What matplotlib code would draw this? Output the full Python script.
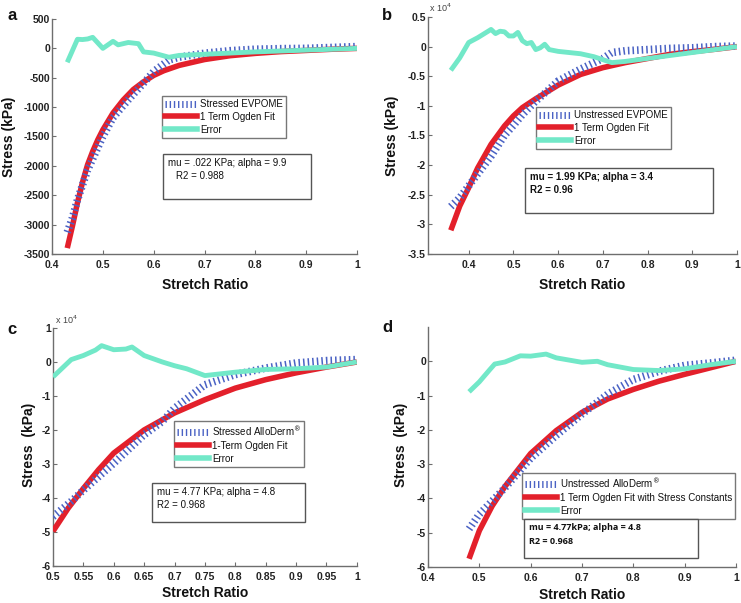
import matplotlib
matplotlib.use("Agg")
import matplotlib.pyplot as plt
from matplotlib.lines import Line2D

plt.rcParams['font.family'] = ['Liberation Sans', 'DejaVu Sans']

# ---------------- Panel a (kPa) ----------------
a_fit_x = [0.43, 0.44, 0.45, 0.46, 0.47, 0.48, 0.49, 0.50, 0.52, 0.54, 0.56, 0.58,
           0.60, 0.62, 0.65, 0.70, 0.75, 0.80, 0.85, 0.90, 0.95, 1.00]
a_fit_y = [-3400, -3030, -2630, -2280, -1980, -1755, -1557, -1387, -1100, -880, -700, -570,
           -460, -380, -290, -190, -125, -85, -55, -35, -15, 0]
a_exp_x = [0.43, 0.44, 0.45, 0.47, 0.50, 0.52, 0.55, 0.58, 0.60, 0.63, 0.65, 0.70,
           0.75, 0.80, 0.85, 0.90, 0.95, 1.00]
a_exp_y = [-3130, -2890, -2580, -2070, -1500, -1180, -877, -593, -395, -197, -150, -83,
           -40, -15, -5, 0, 15, 30]
a_err_x = [0.43, 0.45, 0.46, 0.47, 0.48, 0.50, 0.52, 0.53, 0.55, 0.57, 0.58, 0.60,
           0.63, 0.65, 0.70, 0.75, 0.80, 0.90, 1.00]
a_err_y = [-237, 155, 150, 160, 188, 0, 120, 60, 100, 80, -60, -80,
           -151, -120, -100, -80, -60, -30, 0]

# ---------------- Panel b (x 1e4 kPa) ----------------
b_fit_x = [0.36, 0.38, 0.40, 0.42, 0.45, 0.48, 0.50, 0.52, 0.55, 0.60, 0.65, 0.70,
           0.75, 0.80, 0.85, 0.90, 0.95, 1.00]
b_fit_y = [-3.10, -2.69, -2.38, -2.05, -1.65, -1.34, -1.17, -1.03, -0.88, -0.65, -0.47, -0.355,
           -0.27, -0.20, -0.13, -0.085, -0.045, 0.0]
b_exp_x = [0.36, 0.38, 0.40, 0.42, 0.45, 0.48, 0.50, 0.52, 0.55, 0.58, 0.60, 0.65,
           0.70, 0.72, 0.75, 0.80, 0.85, 0.90, 0.95, 1.00]
b_exp_y = [-2.70, -2.55, -2.35, -2.15, -1.85, -1.50, -1.33, -1.15, -0.92, -0.72, -0.58, -0.38,
           -0.20, -0.10, -0.07, -0.05, -0.03, -0.02, 0.0, 0.01]
b_err_x = [0.36, 0.38, 0.40, 0.42, 0.45, 0.46, 0.47, 0.48, 0.49, 0.50, 0.51, 0.52,
           0.53, 0.54, 0.55, 0.56, 0.57, 0.58, 0.60, 0.65, 0.68, 0.70, 0.72, 0.75,
           0.80, 0.85, 0.90, 0.95, 1.00]
b_err_y = [-0.40, -0.19, 0.07, 0.15, 0.29, 0.22, 0.26, 0.25, 0.18, 0.18, 0.24, 0.10,
           0.05, 0.07, -0.05, -0.02, 0.04, -0.05, -0.08, -0.12, -0.17, -0.22, -0.27, -0.25,
           -0.20, -0.15, -0.10, -0.05, 0.0]

# ---------------- Panel c (x 1e4 kPa) ----------------
c_fit_x = [0.50, 0.525, 0.55, 0.575, 0.60, 0.65, 0.70, 0.75, 0.80, 0.85, 0.90, 0.95, 1.00]
c_fit_y = [-4.98, -4.30, -3.72, -3.17, -2.68, -2.00, -1.50, -1.11, -0.77, -0.52, -0.32, -0.15, 0.0]
c_exp_x = [0.50, 0.53, 0.55, 0.60, 0.65, 0.68, 0.70, 0.75, 0.80, 0.85, 0.90, 0.95, 1.00]
c_exp_y = [-4.55, -4.10, -3.77, -2.98, -2.14, -1.75, -1.36, -0.67, -0.37, -0.18, -0.03, 0.04, 0.07]
c_err_x = [0.50, 0.52, 0.53, 0.55, 0.57, 0.58, 0.60, 0.62, 0.63, 0.65, 0.68, 0.70,
           0.72, 0.75, 0.80, 0.85, 0.90, 0.95, 1.00]
c_err_y = [-0.44, -0.10, 0.07, 0.19, 0.35, 0.48, 0.36, 0.38, 0.44, 0.19, 0.0, -0.11,
           -0.20, -0.40, -0.30, -0.22, -0.20, -0.15, 0.0]

# ---------------- Panel d (x 1e4 kPa) ----------------
d_fit_x = [0.48, 0.50, 0.525, 0.55, 0.60, 0.65, 0.70, 0.75, 0.80, 0.85, 0.90, 0.95, 1.00]
d_fit_y = [-5.76, -4.94, -4.22, -3.65, -2.69, -2.02, -1.49, -1.10, -0.82, -0.58, -0.38, -0.19, 0.0]
d_exp_x = [0.48, 0.50, 0.55, 0.60, 0.65, 0.70, 0.75, 0.80, 0.85, 0.90, 0.95, 1.00]
d_exp_y = [-4.89, -4.46, -3.69, -2.83, -2.16, -1.54, -0.96, -0.53, -0.29, -0.12, -0.05, 0.03]
d_err_x = [0.48, 0.50, 0.52, 0.53, 0.55, 0.58, 0.60, 0.63, 0.65, 0.70, 0.73, 0.75,
           0.80, 0.85, 0.90, 0.95, 1.00]
d_err_y = [-0.89, -0.60, -0.25, -0.08, -0.02, 0.16, 0.15, 0.21, 0.10, -0.03, 0.0, -0.10,
           -0.24, -0.27, -0.22, -0.10, 0.0]

RED = '#e3202b'
BLUE = '#4a62c4'
AQUA = '#72e8c8'
SPINE = '#6e6e6e'
DASH = (0, (0.2, 0.4))

fig = plt.figure(figsize=(7.41, 6.03), dpi=100)
W, H = 741.0, 603.0


def make_ax(rect, xlim, ylim, xticks, yticks, xtl, ytl):
    ax = fig.add_axes(rect)
    ax.set_xlim(*xlim)
    ax.set_ylim(*ylim)
    ax.set_xticks(xticks)
    ax.set_yticks(yticks)
    ax.set_xticklabels(xtl)
    ax.set_yticklabels(ytl)
    for s in ['top', 'right']:
        ax.spines[s].set_visible(False)
    for s in ['left', 'bottom']:
        ax.spines[s].set_color(SPINE)
        ax.spines[s].set_linewidth(1.0)
    ax.tick_params(direction='in', length=3, width=0.8, color=SPINE,
                   labelsize=7.5, pad=1.5)
    ax.tick_params(axis='x', pad=4.5)
    for lab in ax.get_xticklabels() + ax.get_yticklabels():
        lab.set_fontweight('bold')
        lab.set_color('#222222')
    return ax


def draw(ax, ex, ey, fx, fy, rx, ry):
    ax.plot(fx, fy, color=RED, lw=4, solid_capstyle='butt', zorder=3)
    ax.plot(ex, ey, color=BLUE, lw=5.5, linestyle=DASH,
            dash_capstyle='butt', zorder=4)
    ax.plot(rx, ry, color=AQUA, lw=3.5, solid_capstyle='butt', zorder=5)


def legend(ax, labels, bbox, fs=7):
    handles = [Line2D([], [], color=BLUE, lw=5, linestyle=DASH, dash_capstyle='butt'),
               Line2D([], [], color=RED, lw=4),
               Line2D([], [], color=AQUA, lw=4)]
    lg = ax.legend(handles, labels, loc='upper left', bbox_to_anchor=bbox,
                   bbox_transform=fig.transFigure, fontsize=fs, frameon=True,
                   fancybox=False, edgecolor='#555555', handlelength=3.3,
                   handletextpad=0.3, borderpad=0.3, labelspacing=0.3,
                   borderaxespad=0)
    lg.get_frame().set_linewidth(1.0)
    for t in lg.get_texts():
        t.set_color('#111111')
    return lg


def textbox(x0, y0, x1, y1, lines, fs=7, weight='normal', indent2=0.0, family=None):
    rect = plt.Rectangle((x0 / W, 1 - y1 / H), (x1 - x0) / W, (y1 - y0) / H,
                         transform=fig.transFigure, fill=True, facecolor='white',
                         edgecolor='#555555', lw=1.0, zorder=10)
    fig.patches.append(rect)
    kw = dict(fontsize=fs, fontweight=weight, color='#111111', va='center', ha='left', zorder=11)
    if family:
        kw['family'] = family
    fig.text((x0 + 5) / W, 1 - (y0 + 9) / H, lines[0], **kw)
    fig.text((x0 + 5 + indent2) / W, 1 - (y0 + 22) / H, lines[1], **kw)


# Panel a
axa = make_ax([0.0702, 0.5788, 0.4116, 0.3897], (0.4, 1.0), (-3500, 500),
              [0.4, 0.5, 0.6, 0.7, 0.8, 0.9, 1.0],
              list(range(-3500, 501, 500)),
              ['0.4', '0.5', '0.6', '0.7', '0.8', '0.9', '1'],
              [str(v) for v in range(-3500, 501, 500)])
draw(axa, a_exp_x, a_exp_y, a_fit_x, a_fit_y, a_err_x, a_err_y)
legend(axa, ['Stressed EVPOME', '1 Term Ogden Fit', 'Error'], (162 / W, 1 - 96 / H))
textbox(163, 154, 311, 199, ['mu = .022 KPa; alpha = 9.9', 'R2 = 0.988'], indent2=8)

# Panel b
axb = make_ax([0.5776, 0.5788, 0.417, 0.3930], (0.309, 1.0), (-3.5, 0.5),
              [0.4, 0.5, 0.6, 0.7, 0.8, 0.9, 1.0],
              [-3.5, -3, -2.5, -2, -1.5, -1, -0.5, 0, 0.5],
              ['0.4', '0.5', '0.6', '0.7', '0.8', '0.9', '1'],
              ['-3.5', '-3', '-2.5', '-2', '-1.5', '-1', '-0.5', '0', '0.5'])
draw(axb, b_exp_x, b_exp_y, b_fit_x, b_fit_y, b_err_x, b_err_y)
legend(axb, ['Unstressed EVPOME', '1 Term Ogden Fit', 'Error'], (536 / W, 1 - 107 / H))
textbox(525, 168, 713, 213, ['mu = 1.99 KPa; alpha = 3.4', 'R2 = 0.96'], weight='bold')
fig.text(429 / W, 1 - 8 / H, r'x 10$^4$', fontsize=6.5, color='#444444', va='center')

# Panel c
axc = make_ax([0.0715, 0.0614, 0.410, 0.3947], (0.5, 1.0), (-6, 1),
              [0.5, 0.55, 0.6, 0.65, 0.7, 0.75, 0.8, 0.85, 0.9, 0.95, 1.0],
              [-6, -5, -4, -3, -2, -1, 0, 1],
              ['0.5', '0.55', '0.6', '0.65', '0.7', '0.75', '0.8', '0.85', '0.9', '0.95', '1'],
              ['-6', '-5', '-4', '-3', '-2', '-1', '0', '1'])
draw(axc, c_exp_x, c_exp_y, c_fit_x, c_fit_y, c_err_x, c_err_y)
legend(axc, [r'Stressed AlloDerm$^{\circledR}$', '1-Term Ogden Fit', 'Error'],
       (174 / W, 1 - 421 / H))
textbox(152, 483, 305, 522, ['mu = 4.77 KPa; alpha = 4.8', 'R2 = 0.968'])
fig.text(55 / W, 1 - 320 / H, r'x 10$^4$', fontsize=6.5, color='#444444', va='center')

# Panel d
axd = make_ax([0.5776, 0.0597, 0.4156, 0.3980], (0.4, 1.0), (-6, 1),
              [0.4, 0.5, 0.6, 0.7, 0.8, 0.9, 1.0],
              [-6, -5, -4, -3, -2, -1, 0],
              ['0.4', '0.5', '0.6', '0.7', '0.8', '0.9', '1'],
              ['-6', '-5', '-4', '-3', '-2', '-1', '0'])
draw(axd, d_exp_x, d_exp_y, d_fit_x, d_fit_y, d_err_x, d_err_y)
legend(axd, [r'Unstressed AlloDerm$^{\circledR}$', '1 Term Ogden Fit with Stress Constants', 'Error'],
       (522 / W, 1 - 473 / H))
textbox(524, 519, 698, 558, ['mu = 4.77kPa; alpha = 4.8', 'R2 = 0.968'], fs=6.5,
        weight='bold', indent2=0, family=['Open Sans', 'DejaVu Sans'])

# Axis labels
lab_kw = dict(fontsize=10, fontweight='bold', color='#111111')
fig.text(9 / W, 1 - 137 / H, 'Stress (kPa)', rotation=90, ha='center', va='center', **lab_kw)
fig.text(392 / W, 1 - 136 / H, 'Stress (kPa)', rotation=90, ha='center', va='center', **lab_kw)
fig.text(29 / W, 1 - 445 / H, 'Stress  (kPa)', rotation=90, ha='center', va='center', **lab_kw)
fig.text(401 / W, 1 - 445 / H, 'Stress  (kPa)', rotation=90, ha='center', va='center', **lab_kw)

fig.text(205 / W, 1 - 285 / H, 'Stretch Ratio', ha='center', va='center', **lab_kw)
fig.text(582 / W, 1 - 285 / H, 'Stretch Ratio', ha='center', va='center', **lab_kw)
fig.text(205 / W, 1 - 593 / H, 'Stretch Ratio', ha='center', va='center', **lab_kw)
fig.text(582 / W, 1 - 595 / H, 'Stretch Ratio', ha='center', va='center', **lab_kw)

# Panel letters
let_kw = dict(fontsize=12, fontweight='bold', color='#111111', va='center', ha='center')
fig.text(12 / W, 1 - 15 / H, 'a', **let_kw)
fig.text(387 / W, 1 - 15 / H, 'b', **let_kw)
fig.text(12 / W, 1 - 329 / H, 'c', **let_kw)
fig.text(387 / W, 1 - 328 / H, 'd', **let_kw)

fig.savefig('out.png', dpi=100, facecolor='white')
